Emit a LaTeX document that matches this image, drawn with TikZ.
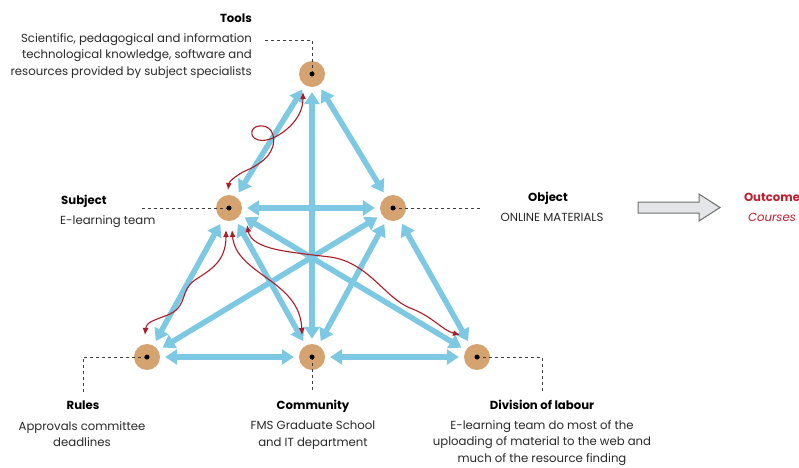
\documentclass[tikz,border=0pt]{standalone}
\usepackage{fontspec}
\setmainfont{Poppins}
\usetikzlibrary{arrows.meta}

\definecolor{nodetan}{RGB}{212,163,112}
\definecolor{linkblue}{RGB}{125,200,226}
\definecolor{tensionred}{RGB}{176,26,38}
\definecolor{leadergray}{RGB}{60,60,60}
\definecolor{textgray}{RGB}{40,40,40}
\definecolor{outred}{RGB}{190,30,45}
\definecolor{blockfill}{RGB}{228,229,232}
\definecolor{blockline}{RGB}{110,110,110}

\begin{document}
\begin{tikzpicture}[x=1pt,y=-1pt,
  actor/.style={circle,fill=nodetan,minimum size=26pt,inner sep=0pt},
  hub/.style={circle,fill=black,minimum size=5pt,inner sep=0pt},
  bluelink/.style={draw=linkblue,line width=5.5pt,
    {Triangle[length=12pt,width=15pt]}-{Triangle[length=12pt,width=15pt]},
    shorten <=5pt,shorten >=5pt},
  redlink/.style={draw=tensionred,line width=1.1pt,
    {Latex[length=7pt,width=6pt]}-{Latex[length=7pt,width=6pt]}},
  leader/.style={draw=leadergray,line width=0.9pt,dash pattern=on 3pt off 3pt},
  headtext/.style={inner sep=0pt,text=black,font=\fontsize{11.7}{16.5}\selectfont\bfseries},
  bodytext/.style={inner sep=0pt,text=textgray,font=\fontsize{11.7}{16.5}\selectfont},
]
\useasboundingbox (0,0) rectangle (799,467);

% activity system nodes
\node[actor] (tools) at (312,74) {};
\node[actor] (subj)  at (229,208) {};
\node[actor] (obj)   at (393,208) {};
\node[actor] (rules) at (147,357) {};
\node[actor] (comm)  at (312,357) {};
\node[actor] (div)   at (477,357) {};

% blue mediating links
\draw[bluelink] (tools) -- (subj);
\draw[bluelink] (tools) -- (obj);
\draw[bluelink] (tools) -- (comm);
\draw[bluelink] (subj) -- (obj);
\draw[bluelink] (subj) -- (rules);
\draw[bluelink] (subj) -- (comm);
\draw[bluelink] (subj) -- (div);
\draw[bluelink] (obj) -- (rules);
\draw[bluelink] (obj) -- (comm);
\draw[bluelink] (obj) -- (div);
\draw[bluelink] (rules) -- (comm);
\draw[bluelink] (comm) -- (div);

% red contradiction arrows
\draw[redlink] ([shift={(-9,18)}]tools.center)
  .. controls (303,115) and (290,130) .. (273,138)
  .. controls (262,143) and (250,140) .. (252,131)
  .. controls (254,124) and (270,123) .. (273,135)
  .. controls (277,152) and (262,164) .. (245,171)
  .. controls (235,176) and (229,182) .. ([shift={(-1,-18)}]subj.center);
\draw[redlink] ([shift={(-3,22)}]subj.center)
  .. controls (226,262) and (210,270) .. (195,280)
  .. controls (180,290) and (188,305) .. (170,314)
  .. controls (155,320) and (146,322) .. ([shift={(-2,-22)}]rules.center);
\draw[redlink] ([shift={(3,22)}]subj.center)
  .. controls (236,275) and (300,280) .. ([shift={(-10,-22)}]comm.center);
\draw[redlink] ([shift={(18,17)}]subj.center)
  .. controls (252,250) and (290,252) .. (330,257)
  .. controls (368,262) and (385,298) .. (410,308)
  .. controls (432,316) and (442,330) .. ([shift={(-17,-22)}]div.center);

% dashed leaders to the labels
\coordinate (toolsbend) at (312,40);
\coordinate (toolsend) at (264,40);
\draw[leader] (tools.center) -- (toolsbend) -- (toolsend);
\coordinate (subjend) at (142,208);
\draw[leader] (subj.center) -- (subjend);
\coordinate (objend) at (482,208);
\draw[leader] (obj.center) -- (objend);
\coordinate (rulesbend) at (83,357);
\coordinate (rulesend) at (83,392);
\draw[leader] (rules.center) -- (rulesbend) -- (rulesend);
\coordinate (commend) at (312,392);
\draw[leader] (comm.center) -- (commend);
\coordinate (divbend) at (542,357);
\coordinate (divend) at (542,392);
\draw[leader] (div.center) -- (divbend) -- (divend);

% centre dots
\foreach \n in {tools,subj,obj,rules,comm,div}
  \node[hub] at (\n.center) {};

% labels
\node[headtext,anchor=base east] (toolsT) at (252,22) {Tools};
\node[bodytext,anchor=north east,align=right] (toolsD) at (252,33)
  {Scientific, pedagogical and information\\technological knowledge, software and\\resources provided by subject specialists};
\node[headtext,anchor=base west] (subjT) at (61,204) {Subject};
\node[bodytext,anchor=base west] (subjD) at (60,224) {E-learning team};
\node[headtext,anchor=base] (objT) at (548,201) {Object};
\node[bodytext,anchor=base] (objD) at (552,221) {ONLINE MATERIALS};
\node[headtext,anchor=base] (rulesT) at (83,409) {Rules};
\node[bodytext,anchor=north,align=center] (rulesD) at (82,421) {Approvals committee\\deadlines};
\node[headtext,anchor=base] (commT) at (313,409) {Community};
\node[bodytext,anchor=north,align=center] (commD) at (313,421) {FMS Graduate School\\and IT department};
\node[headtext,anchor=base] (divT) at (542,409) {Division of labour};
\node[bodytext,anchor=north,align=center] (divD) at (542,420)
  {E-learning team do most of the\\uploading of material to the web and\\much of the resource finding};

% outcome block arrow
\draw[fill=blockfill,draw=blockline,line width=1pt,line join=miter]
  (638,202) -- (699,202) -- (699,194) -- (720,207.5) -- (699,221) -- (699,213) -- (638,213) -- cycle;
\node[headtext,text=outred,anchor=base] (outT) at (772,201) {Outcome};
\node[bodytext,text=outred,anchor=base,font=\fontsize{11.7}{16.5}\selectfont\itshape] (outD) at (772,221) {Courses};
\end{tikzpicture}
\end{document}
